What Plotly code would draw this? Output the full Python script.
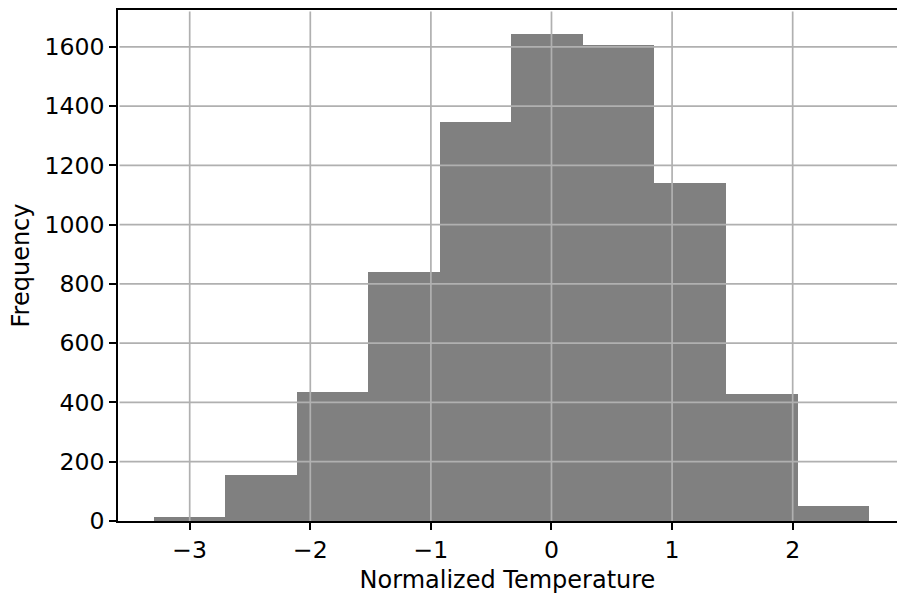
import plotly.graph_objects as go

# Data
bin_edges = [-3.298, -2.705, -2.112, -1.519, -0.926, -0.333, 0.261, 0.854, 1.447, 2.040, 2.633]
counts = [15, 156, 435, 840, 1345, 1642, 1605, 1141, 430, 52]

x_tick_vals = [-3, -2, -1, 0, 1, 2]
x_tick_text = ["\u22123", "\u22122", "\u22121", "0", "1", "2"]
y_tick_vals = [0, 200, 400, 600, 800, 1000, 1200, 1400, 1600]

centers = [(a + b) / 2 for a, b in zip(bin_edges[:-1], bin_edges[1:])]
widths = [b - a for a, b in zip(bin_edges[:-1], bin_edges[1:])]

FONT = "DejaVu Sans"
FS = 23.6
FT = 24
GRID = "#b0b0b0"

fig = go.Figure()
fig.add_trace(go.Bar(
    x=centers, y=counts, width=widths,
    marker=dict(color="#808080", line=dict(width=0)),
    hoverinfo="x+y",
))

span = bin_edges[-1] - bin_edges[0]
x_lo = bin_edges[0] - 0.05 * span
x_hi = 2.865
y_hi = max(counts) * 1.05

shapes = []
for v in x_tick_vals:
    shapes.append(dict(type="line", xref="x", yref="paper", x0=v, x1=v, y0=0, y1=0.997,
                       line=dict(color=GRID, width=1.7), layer="above"))
for v in y_tick_vals:
    if v == 0:
        continue
    shapes.append(dict(type="line", xref="paper", yref="y", x0=0.002, x1=1, y0=v, y1=v,
                       line=dict(color=GRID, width=1.7), layer="above"))

fig.update_layout(
    width=897, height=594,
    margin=dict(l=118, r=0, t=10, b=73),
    paper_bgcolor="white", plot_bgcolor="white",
    font=dict(family=FONT, size=FS, color="black"),
    showlegend=False,
    bargap=0,
    shapes=shapes,
)
fig.update_xaxes(
    range=[x_lo, x_hi],
    tickmode="array", tickvals=x_tick_vals, ticktext=x_tick_text,
    showgrid=False, zeroline=False,
    showline=True, linecolor="black", linewidth=1.7, mirror=True,
    ticks="outside", ticklen=7, tickwidth=1.7, tickcolor="black",
    tickfont=dict(family=FONT, size=FS),
    title=dict(text="Normalized Temperature", font=dict(family=FONT, size=FT), standoff=9),
    layer="above traces",
)
fig.update_yaxes(
    range=[0, y_hi],
    tickmode="array", tickvals=y_tick_vals,
    showgrid=False, zeroline=False,
    showline=True, linecolor="black", linewidth=1.7, mirror=False,
    ticks="outside", ticklen=7, tickwidth=1.7, tickcolor="black",
    tickfont=dict(family=FONT, size=FS),
    title=dict(text="Frequency", font=dict(family=FONT, size=FT), standoff=8),
    layer="above traces",
)

fig.write_html("out.html", config={"displayModeBar": False},
               post_script="document.body.style.margin='0';document.body.style.overflow='hidden';")
